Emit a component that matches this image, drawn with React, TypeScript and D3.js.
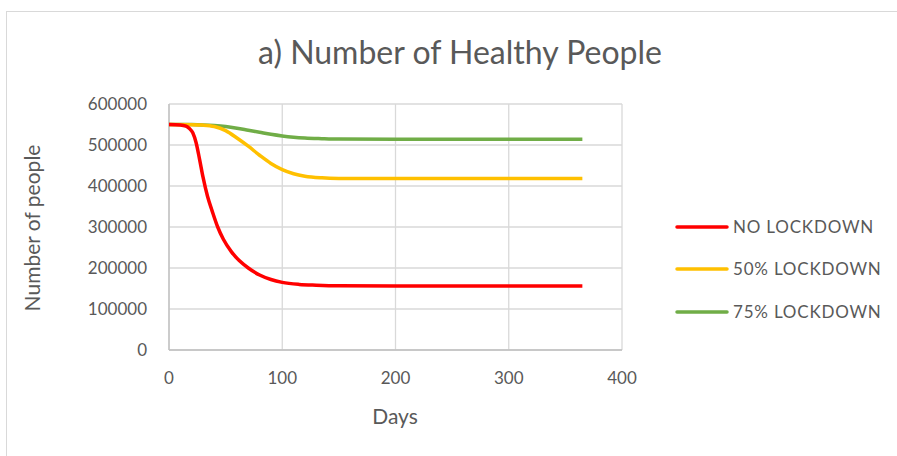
import React from "react";
import * as d3 from "d3";

const W = 897;
const H = 456;

const redDays = [0, 10, 15, 18, 21, 24, 27, 30, 34, 38, 43, 48, 55, 62, 70, 80, 90, 100, 115, 130, 150, 200, 250, 300, 365];
const redVals = [550000, 549000, 546000, 540000, 530000, 505000, 465000, 422000, 375000, 340000, 300000, 270000, 240000, 218000, 200000, 183000, 172000, 165000, 160000, 158000, 156500, 156000, 156000, 156000, 156000];

const yellowDays = [0, 20, 30, 40, 50, 60, 70, 80, 90, 100, 110, 120, 135, 150, 175, 200, 365];
const yellowVals = [550000, 549500, 548500, 545000, 535000, 517000, 497000, 475000, 455000, 440000, 430000, 424000, 420000, 418500, 418000, 418000, 418000];

const greenDays = [0, 20, 30, 40, 50, 60, 70, 80, 90, 100, 110, 120, 135, 150, 200, 365];
const greenVals = [550000, 549800, 549000, 547500, 545000, 541000, 536000, 531000, 526000, 522000, 519000, 517000, 515500, 514500, 514000, 514000];

const xTicks = [0, 100, 200, 300, 400];
const yTicks = [0, 100000, 200000, 300000, 400000, 500000, 600000];

const seriesNames = ["NO LOCKDOWN", "50% LOCKDOWN", "75% LOCKDOWN"];
const seriesColors = ["#FF0000", "#FFC000", "#70AD47"];

const font = "Lato, 'Open Sans', sans-serif";
const textColor = "#595959";

export default function App() {
  const x = d3.scaleLinear().domain([0, 400]).range([169, 622]);
  const y = d3.scaleLinear().domain([0, 600000]).range([350, 104]);

  const line = d3
    .line<[number, number]>()
    .x((d) => x(d[0]))
    .y((d) => y(d[1]))
    .curve(d3.curveMonotoneX);

  const series = [
    redDays.map((d, i) => [d, redVals[i]] as [number, number]),
    yellowDays.map((d, i) => [d, yellowVals[i]] as [number, number]),
    greenDays.map((d, i) => [d, greenVals[i]] as [number, number]),
  ];

  const legendY = [227, 269, 312];

  return (
    <svg width={W} height={H} style={{ position: "absolute", left: 0, top: 0, background: "#fff" }}>
      <rect x={6.5} y={11.5} width={900} height={450} fill="#fff" stroke="#d9d9d9" />
      <text x={460} y={64} textAnchor="middle" fontFamily={font} fontSize={32} fill={textColor}>
        a) Number of Healthy People
      </text>

      {/* grid */}
      {yTicks.map((t) => (
        <line key={"gy" + t} x1={x(0)} x2={x(400)} y1={y(t)} y2={y(t)} stroke="#d9d9d9" strokeWidth={1.3} />
      ))}
      {xTicks.map((t) => (
        <line key={"gx" + t} x1={x(t)} x2={x(t)} y1={y(0)} y2={y(600000)} stroke="#d9d9d9" strokeWidth={1.3} />
      ))}
      <line x1={x(0)} x2={x(0)} y1={y(0)} y2={y(600000)} stroke="#bfbfbf" strokeWidth={1.3} />
      <line x1={x(0)} x2={x(400)} y1={y(0)} y2={y(0)} stroke="#bfbfbf" strokeWidth={1.3} />

      {/* tick labels */}
      {yTicks.map((t) => (
        <text key={"ty" + t} x={147} y={y(t) + 6} textAnchor="end" fontFamily={font} fontSize={17} fill={textColor}>
          {t}
        </text>
      ))}
      {xTicks.map((t) => (
        <text key={"tx" + t} x={x(t)} y={384} textAnchor="middle" fontFamily={font} fontSize={17} fill={textColor}>
          {t}
        </text>
      ))}

      <text x={395} y={424} textAnchor="middle" fontFamily={font} fontSize={21} fill={textColor}>
        Days
      </text>
      <text
        transform={`translate(40,228) rotate(-90)`}
        textAnchor="middle"
        fontFamily={font}
        fontSize={21}
        fill={textColor}
      >
        Number of people
      </text>

      {/* lines */}
      {series.map((s, i) => (
        <path key={"s" + i} d={line(s) || ""} fill="none" stroke={seriesColors[i]} strokeWidth={3.5} strokeLinejoin="round" />
      )).reverse()}

      {/* legend */}
      {seriesNames.map((n, i) => (
        <g key={"l" + i}>
          <line x1={677} x2={727} y1={legendY[i]} y2={legendY[i]} stroke={seriesColors[i]} strokeWidth={3.5} strokeLinecap="round" />
          <text x={733} y={legendY[i] + 6} fontFamily={font} fontSize={17} fill={textColor} letterSpacing={0.8}>
            {n}
          </text>
        </g>
      ))}
    </svg>
  );
}
